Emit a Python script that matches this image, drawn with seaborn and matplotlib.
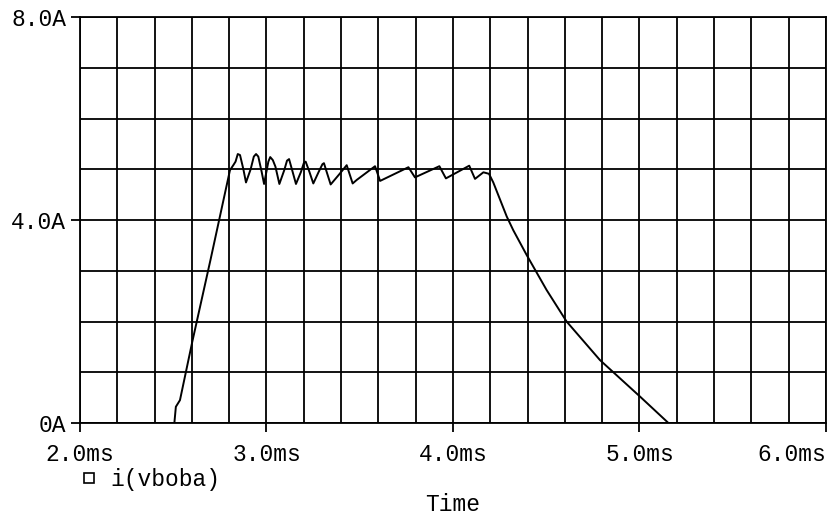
import numpy as np
import pandas as pd
import matplotlib
matplotlib.use("Agg")
import matplotlib.pyplot as plt
import seaborn as sns
from matplotlib.lines import Line2D

# current through vboba
time_ms = [2.0, 2.506, 2.514, 2.536, 2.602, 2.70, 2.804, 2.822, 2.834, 2.846,
           2.858, 2.876, 2.890, 2.915, 2.932, 2.944, 2.956, 2.974, 2.987, 3.010,
           3.020, 3.034, 3.048, 3.069, 3.095, 3.110, 3.121, 3.140, 3.158, 3.185,
           3.200, 3.210, 3.230, 3.251, 3.280, 3.300, 3.308, 3.325, 3.344, 3.390,
           3.430, 3.462, 3.484, 3.582, 3.609, 3.761, 3.796, 3.927, 3.962, 4.087,
           4.118, 4.163, 4.193, 4.216, 4.288, 4.323, 4.395, 4.502, 4.609, 4.788,
           5.003, 5.155, 6.0]
current_a = [0.0, 0.0, 0.32, 0.45, 1.60, 3.22, 4.98, 5.08, 5.15, 5.30,
             5.28, 5.00, 4.74, 5.00, 5.25, 5.30, 5.25, 4.95, 4.71, 5.15,
             5.24, 5.18, 5.05, 4.71, 4.98, 5.17, 5.20, 4.95, 4.71, 4.95,
             5.12, 5.15, 4.95, 4.72, 4.95, 5.10, 5.12, 4.92, 4.70, 4.90,
             5.08, 4.72, 4.79, 5.06, 4.77, 5.04, 4.84, 5.06, 4.82, 5.07,
             4.81, 4.94, 4.91, 4.74, 4.07, 3.80, 3.31, 2.62, 2.00, 1.24,
             0.52, 0.0, 0.0]

x_major = [2.0, 3.0, 4.0, 5.0, 6.0]
x_labels = ["2.0ms", "3.0ms", "4.0ms", "5.0ms", "6.0ms"]
y_major = [0, 4, 8]
y_labels = ["0A", "4.0A", "8.0A"]
trace_name = "i(vboba)"

df = pd.DataFrame({"time": time_ms, "current": current_a})

sns.set_theme(style="white")
plt.rcParams["font.family"] = ["Liberation Mono", "DejaVu Sans"]
plt.rcParams["text.color"] = "black"

fig = plt.figure(figsize=(8.29, 5.18), dpi=100)
ax = fig.add_axes([80 / 829, 1 - 423 / 518, 746 / 829, 406 / 518])

sns.lineplot(data=df, x="time", y="current", color="black", linewidth=1.4,
             estimator=None, sort=False, ax=ax, legend=False)

ax.set_xlim(2.0, 6.0)
ax.set_ylim(0, 8)

# grid every 0.2ms and 1A, labels only on the major positions
ax.set_xticks(np.arange(2.0, 6.01, 0.2), minor=True)
ax.set_yticks(np.arange(0, 8.1, 1), minor=True)
ax.set_xticks(x_major)
ax.set_xticklabels(x_labels)
ax.set_yticks(y_major)
ax.set_yticklabels(y_labels)
ax.grid(True, which="both", color="black", linewidth=1.3)
ax.set_axisbelow(True)

ax.tick_params(axis="both", which="major", direction="out", length=6.5,
               width=1.3, color="black", labelsize=16.5, labelcolor="black",
               bottom=True, left=True)
ax.tick_params(axis="x", which="major", pad=8)
ax.tick_params(axis="y", which="major", pad=3.5)
ax.tick_params(which="minor", length=0)
ax.get_xticklabels()[-1].set_ha("right")

for s in ax.spines.values():
    s.set_color("black")
    s.set_linewidth(1.3)

ax.set_ylabel("")
ax.set_xlabel("Time", fontsize=16.5, color="black")
ax.xaxis.set_label_coords(0.5, -0.172)

handle = Line2D([], [], color="black", linestyle="none", marker="s",
                markerfacecolor="none", markeredgewidth=1.2, markersize=7.5)
ax.legend([handle], [trace_name], loc="center left",
          bbox_to_anchor=(81 / 829, 1 - 479.5 / 518),
          bbox_transform=fig.transFigure, frameon=False, fontsize=16.5,
          labelcolor="black", handlelength=0.7, handletextpad=0.6,
          borderpad=0, borderaxespad=0)

fig.savefig("out.png", dpi=100)
